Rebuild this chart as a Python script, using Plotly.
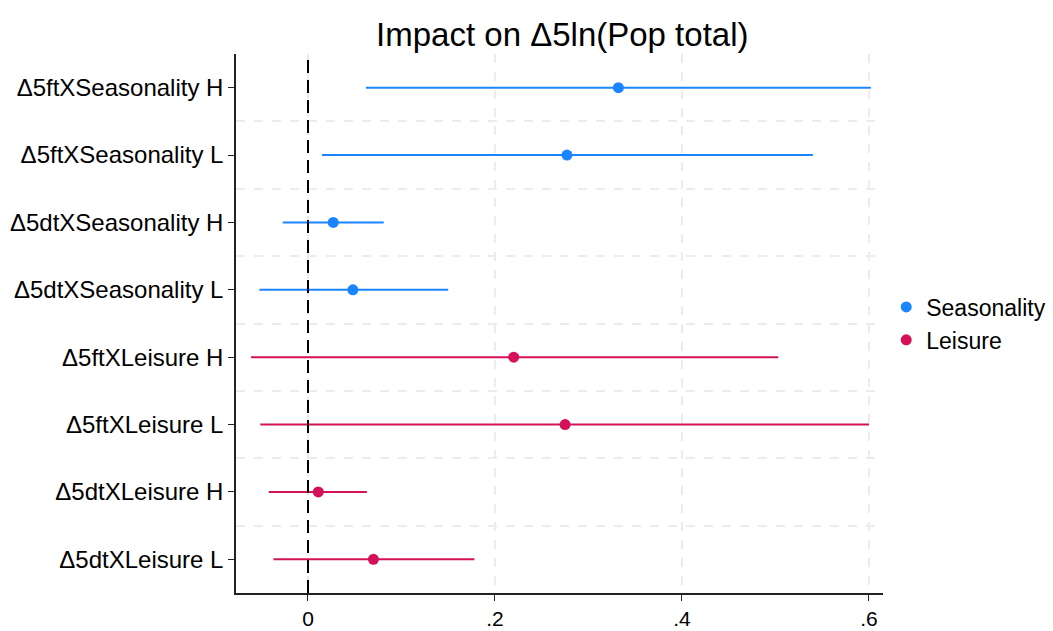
import plotly.graph_objects as go

labels = ["Δ5ftXSeasonality H", "Δ5ftXSeasonality L", "Δ5dtXSeasonality H", "Δ5dtXSeasonality L",
          "Δ5ftXLeisure H", "Δ5ftXLeisure L", "Δ5dtXLeisure H", "Δ5dtXLeisure L"]

seas_labels = labels[:4]
seas_est = [0.332, 0.277, 0.027, 0.048]
seas_lo = [0.062, 0.015, -0.027, -0.052]
seas_hi = [0.602, 0.540, 0.081, 0.150]

leis_labels = labels[4:]
leis_est = [0.220, 0.275, 0.011, 0.070]
leis_lo = [-0.061, -0.051, -0.042, -0.037]
leis_hi = [0.503, 0.600, 0.063, 0.178]

xticks = [0, 0.2, 0.4, 0.6]
xticklabels = ["0", ".2", ".4", ".6"]

n = len(labels)
pos = {lab: n - 1 - i for i, lab in enumerate(labels)}

BLUE = "#1a85ff"
RED = "#d41159"

fig = go.Figure()
for name, labs, est, lo, hi, col in [
    ("Seasonality", seas_labels, seas_est, seas_lo, seas_hi, BLUE),
    ("Leisure", leis_labels, leis_est, leis_lo, leis_hi, RED),
]:
    fig.add_trace(go.Scatter(
        x=est, y=[pos[l] for l in labs], mode="markers", name=name,
        marker=dict(color=col, size=11),
        error_x=dict(type="data", symmetric=False,
                     array=[h - e for h, e in zip(hi, est)],
                     arrayminus=[e - l for e, l in zip(est, lo)],
                     color=col, thickness=2, width=0),
    ))

fig.add_shape(type="line", x0=0, x1=0, y0=0, y1=1, xref="x", yref="paper",
              line=dict(color="black", width=2, dash="13px,7px"), layer="above")

fig.update_layout(
    width=1053, height=631,
    margin=dict(l=236, r=170, t=54, b=38, autoexpand=False),
    paper_bgcolor="white", plot_bgcolor="white",
    font=dict(family="Liberation Sans, Arial, sans-serif", color="black", size=23),
    title=dict(text="Impact on Δ5ln(Pop total)", x=0.534, xanchor="center",
               y=0.946, yanchor="middle", font=dict(size=33)),
    showlegend=True,
    legend=dict(x=1.005, y=0.5, xanchor="left", yanchor="middle",
                font=dict(size=23), tracegroupgap=0,
                bgcolor="rgba(0,0,0,0)"),
    xaxis=dict(range=[-0.077, 0.615], tickvals=xticks, ticktext=xticklabels,
               automargin=False,
               showline=True, linecolor="#222", linewidth=1.5,
               ticks="outside", ticklen=6, tickcolor="#222",
               showgrid=True, gridcolor="#ececec", griddash="dash", gridwidth=2,
               zeroline=False, tickfont=dict(size=21)),
    yaxis=dict(range=[-0.5, n - 0.5], tickvals=list(range(n)),
               ticktext=[labels[n - 1 - i] for i in range(n)],
               automargin=False,
               showline=True, linecolor="#222", linewidth=1.5,
               ticks="outside", ticklen=6, tickcolor="#222",
               showgrid=False, zeroline=False,
               minor=dict(tickvals=[i + 0.5 for i in range(n - 1)], showgrid=True,
                          gridcolor="#ececec", griddash="dash", gridwidth=2, ticks=""),
               tickfont=dict(size=24)),
)

fig.write_html("out.html")
